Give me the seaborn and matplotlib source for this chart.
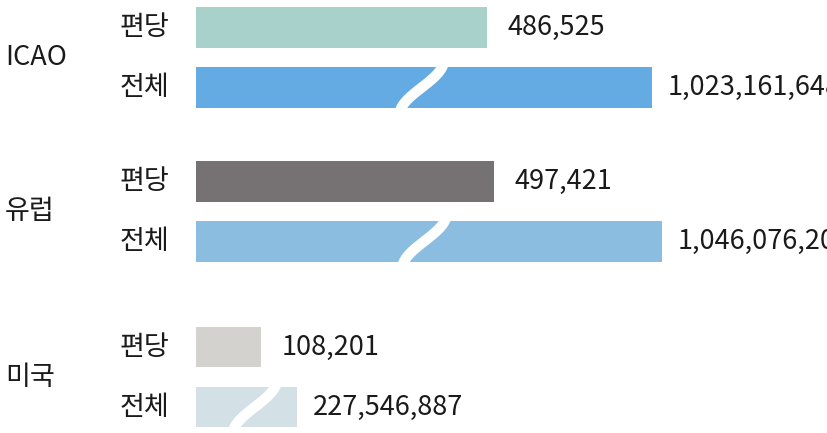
import numpy as np
import pandas as pd
import seaborn as sns
from matplotlib import pyplot as plt

groups = ["ICAO", "유럽", "미국"]
kinds = ["편당", "전체"]
per_flight = [486525, 497421, 108201]
total = [1023161648, 1046076200, 227546887]

colors_per_flight = ["#a8d1cb", "#767273", "#d4d2cf"]
colors_total = ["#64abe3", "#8bbde1", "#d3e1e7"]

# row positions of the groups (in units of 160 px)
group_y = [0.0, 0.96, 1.997]

# 전체 bars are drawn on a compressed (broken) scale
TOTAL_SCALE = 1342
break_pos = [0.495, 0.49, 0.58]

df = pd.DataFrame({
    "pos": group_y * 2,
    "kind": ["편당"] * 3 + ["전체"] * 3,
    "value": per_flight + total,
})
df["length"] = np.where(df["kind"] == "전체", df["value"] / TOTAL_SCALE, df["value"])

sns.set_theme(style="white")
plt.rcParams['font.family'] = ['Noto Sans CJK KR', 'DejaVu Sans']

W, H = 827, 433
fig = plt.figure(figsize=(W / 100, H / 100), dpi=100)
left_px = 196
ax = fig.add_axes([left_px / W, 0, (W - left_px) / W, 1])

native_w = min(np.diff(sorted(group_y)))
sns.barplot(data=df, y="pos", x="length", hue="kind", hue_order=kinds,
            orient="h", native_scale=True, width=0.75 / native_w, gap=0.32,
            legend=False, linewidth=0, saturation=1, ax=ax)

px_per_unit = 291 / per_flight[0]
ax.set_xlim(0, (W - left_px) / px_per_unit)
ax.set_ylim(-57.5 / 160 + H / 160, -57.5 / 160)
ax.set_axis_off()

for patch, col in zip(ax.containers[0], colors_per_flight):
    patch.set_facecolor(col)
for patch, col in zip(ax.containers[1], colors_total):
    patch.set_facecolor(col)

txt = dict(fontsize=19.5, color="#1a1a1a", fontweight="light")
ax.bar_label(ax.containers[0], labels=[f"{v:,}" for v in per_flight], padding=15, **txt)
ax.bar_label(ax.containers[1], labels=[f"{v:,}" for v in total], padding=11, **txt)

# wavy white break marks on the 전체 bars
data_per_px = 1 / px_per_unit
y_per_px = 1 / 160
t = np.linspace(-1, 1, 80)
for patch, frac in zip(ax.containers[1], break_pos):
    yc = patch.get_y() + patch.get_height() / 2
    xc = patch.get_width() * frac
    xs = xc + 22 * np.sin(np.pi * t / 2) * data_per_px
    ys = yc - 27 * t * y_per_px
    ax.plot(xs, ys, color="white", lw=7.5, solid_capstyle="butt")

# row labels
trans = ax.get_yaxis_transform()
sub_x = (144 - left_px) / (W - left_px)
grp_x = (5 - left_px) / (W - left_px)
for i, g in enumerate(groups):
    p1 = ax.containers[0][i]
    p2 = ax.containers[1][i]
    ax.text(sub_x, p1.get_y() + p1.get_height() / 2, "편당", transform=trans,
            ha="center", va="center", clip_on=False, **txt)
    ax.text(sub_x, p2.get_y() + p2.get_height() / 2, "전체", transform=trans,
            ha="center", va="center", clip_on=False, **txt)
    ax.text(grp_x, group_y[i], g, transform=trans, ha="left", va="center",
            clip_on=False, **txt)

plt.savefig("out.png", dpi=100)
